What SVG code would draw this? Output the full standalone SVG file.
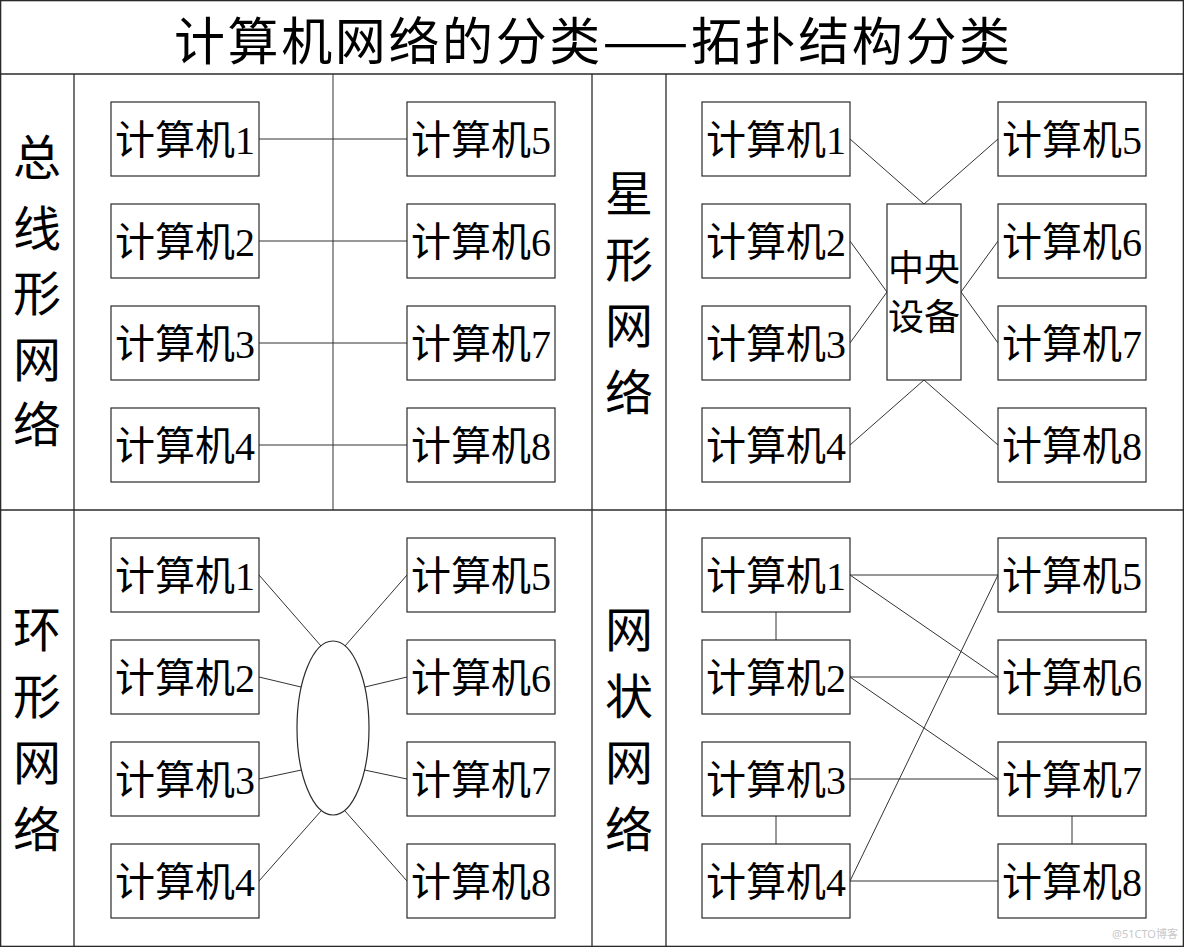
<svg xmlns="http://www.w3.org/2000/svg" width="1184" height="947" viewBox="0 0 1184 947">
<style>
.frame{fill:none;stroke:#2a2a2a;stroke-width:1.3}
.box{fill:#fff;stroke:#2a2a2a;stroke-width:1.2}
.ln{fill:none;stroke:#333;stroke-width:1}
.lbl{font-family:"Liberation Serif","Noto Sans CJK SC",serif;font-size:40px;fill:#000;text-anchor:middle}
.side{font-family:"Noto Sans CJK SC",sans-serif;font-size:48px;fill:#000;text-anchor:middle}
.title{font-family:"Noto Sans CJK SC",sans-serif;font-size:51px;fill:#000;text-anchor:middle}
.dev{font-family:"Noto Sans CJK SC",sans-serif;font-size:36px;fill:#000;text-anchor:middle}
.wm{font-family:"Noto Sans","Noto Sans CJK SC",sans-serif;font-size:11px;fill:#c8c8c8}
</style>
<rect width="1184" height="947" fill="#fff"/>
<g id="frame">
<rect class="frame" x="0.65" y="0.65" width="1182.7" height="945.7"/>
<line class="frame" x1="0" y1="74" x2="1184" y2="74"/>
<line class="frame" x1="0" y1="510" x2="1184" y2="510"/>
<line class="frame" x1="592" y1="74" x2="592" y2="947"/>
<line class="frame" x1="74" y1="74" x2="74" y2="947"/>
<line class="frame" x1="666" y1="74" x2="666" y2="947"/>
</g>
<text id="title" class="title" x="592" y="59.5" textLength="836" lengthAdjust="spacing">计算机网络的分类——拓扑结构分类</text>
<g id="labels">
<text class="side" x="37"><tspan x="37" y="175">总</tspan><tspan x="37" y="246">线</tspan><tspan x="37" y="311">形</tspan><tspan x="37" y="377">网</tspan><tspan x="37" y="442">络</tspan></text>
<text class="side" x="629"><tspan x="629" y="211">星</tspan><tspan x="629" y="277">形</tspan><tspan x="629" y="343">网</tspan><tspan x="629" y="410">络</tspan></text>
<text class="side" x="37"><tspan x="37" y="647">环</tspan><tspan x="37" y="714">形</tspan><tspan x="37" y="780">网</tspan><tspan x="37" y="847">络</tspan></text>
<text class="side" x="629"><tspan x="629" y="647">网</tspan><tspan x="629" y="714">状</tspan><tspan x="629" y="780">网</tspan><tspan x="629" y="847">络</tspan></text>
</g>
<g id="connectors">
<!-- bus -->
<line class="ln" x1="333" y1="74" x2="333" y2="510"/>
<line class="ln" x1="259" y1="139" x2="407" y2="139"/>
<line class="ln" x1="259" y1="241" x2="407" y2="241"/>
<line class="ln" x1="259" y1="343" x2="407" y2="343"/>
<line class="ln" x1="259" y1="445" x2="407" y2="445"/>
<!-- star -->
<line class="ln" x1="850" y1="139" x2="924" y2="204"/>
<line class="ln" x1="998" y1="139" x2="924" y2="204"/>
<line class="ln" x1="850" y1="241" x2="887" y2="292"/>
<line class="ln" x1="850" y1="343" x2="887" y2="292"/>
<line class="ln" x1="998" y1="241" x2="961" y2="292"/>
<line class="ln" x1="998" y1="343" x2="961" y2="292"/>
<line class="ln" x1="850" y1="445" x2="924" y2="380"/>
<line class="ln" x1="998" y1="445" x2="924" y2="380"/>
<!-- ring -->
<line class="ln" x1="259" y1="575" x2="321" y2="646"/>
<line class="ln" x1="259" y1="677" x2="301" y2="687"/>
<line class="ln" x1="259" y1="779" x2="301.5" y2="770"/>
<line class="ln" x1="259" y1="881" x2="321" y2="811"/>
<line class="ln" x1="407" y1="575" x2="345" y2="646"/>
<line class="ln" x1="407" y1="677" x2="365" y2="687"/>
<line class="ln" x1="407" y1="779" x2="364.5" y2="770"/>
<line class="ln" x1="407" y1="881" x2="345" y2="811"/>
<!-- mesh -->
<line class="ln" x1="850" y1="575" x2="998" y2="575"/>
<line class="ln" x1="850" y1="575" x2="998" y2="677"/>
<line class="ln" x1="776" y1="612" x2="776" y2="640"/>
<line class="ln" x1="850" y1="677" x2="998" y2="677"/>
<line class="ln" x1="850" y1="677" x2="998" y2="779"/>
<line class="ln" x1="850" y1="779" x2="998" y2="779"/>
<line class="ln" x1="776" y1="816" x2="776" y2="844"/>
<line class="ln" x1="850" y1="881" x2="998" y2="575"/>
<line class="ln" x1="850" y1="881" x2="998" y2="881"/>
<line class="ln" x1="1072" y1="816" x2="1072" y2="844"/>
</g>
<ellipse id="ring" class="box" cx="333" cy="728" rx="36" ry="87"/>
<g id="bus-nodes">
<g id="bus-1"><rect class="box" x="111" y="102" width="148" height="74"/><text class="lbl" x="185" y="154">计算机1</text></g>
<g id="bus-2"><rect class="box" x="111" y="204" width="148" height="74"/><text class="lbl" x="185" y="256">计算机2</text></g>
<g id="bus-3"><rect class="box" x="111" y="306" width="148" height="74"/><text class="lbl" x="185" y="358">计算机3</text></g>
<g id="bus-4"><rect class="box" x="111" y="408" width="148" height="74"/><text class="lbl" x="185" y="460">计算机4</text></g>
<g id="bus-5"><rect class="box" x="407" y="102" width="148" height="74"/><text class="lbl" x="481" y="154">计算机5</text></g>
<g id="bus-6"><rect class="box" x="407" y="204" width="148" height="74"/><text class="lbl" x="481" y="256">计算机6</text></g>
<g id="bus-7"><rect class="box" x="407" y="306" width="148" height="74"/><text class="lbl" x="481" y="358">计算机7</text></g>
<g id="bus-8"><rect class="box" x="407" y="408" width="148" height="74"/><text class="lbl" x="481" y="460">计算机8</text></g>
</g>
<g id="star-nodes">
<g id="star-1"><rect class="box" x="702" y="102" width="148" height="74"/><text class="lbl" x="776" y="154">计算机1</text></g>
<g id="star-2"><rect class="box" x="702" y="204" width="148" height="74"/><text class="lbl" x="776" y="256">计算机2</text></g>
<g id="star-3"><rect class="box" x="702" y="306" width="148" height="74"/><text class="lbl" x="776" y="358">计算机3</text></g>
<g id="star-4"><rect class="box" x="702" y="408" width="148" height="74"/><text class="lbl" x="776" y="460">计算机4</text></g>
<g id="star-5"><rect class="box" x="998" y="102" width="148" height="74"/><text class="lbl" x="1072" y="154">计算机5</text></g>
<g id="star-6"><rect class="box" x="998" y="204" width="148" height="74"/><text class="lbl" x="1072" y="256">计算机6</text></g>
<g id="star-7"><rect class="box" x="998" y="306" width="148" height="74"/><text class="lbl" x="1072" y="358">计算机7</text></g>
<g id="star-8"><rect class="box" x="998" y="408" width="148" height="74"/><text class="lbl" x="1072" y="460">计算机8</text></g>
<g id="star-hub"><rect class="box" x="887" y="204" width="74" height="176"/><text class="dev" x="924"><tspan x="924" y="281">中央</tspan><tspan x="924" y="330">设备</tspan></text></g>
</g>
<g id="ring-nodes">
<g id="ring-1"><rect class="box" x="111" y="538" width="148" height="74"/><text class="lbl" x="185" y="590">计算机1</text></g>
<g id="ring-2"><rect class="box" x="111" y="640" width="148" height="74"/><text class="lbl" x="185" y="692">计算机2</text></g>
<g id="ring-3"><rect class="box" x="111" y="742" width="148" height="74"/><text class="lbl" x="185" y="794">计算机3</text></g>
<g id="ring-4"><rect class="box" x="111" y="844" width="148" height="74"/><text class="lbl" x="185" y="896">计算机4</text></g>
<g id="ring-5"><rect class="box" x="407" y="538" width="148" height="74"/><text class="lbl" x="481" y="590">计算机5</text></g>
<g id="ring-6"><rect class="box" x="407" y="640" width="148" height="74"/><text class="lbl" x="481" y="692">计算机6</text></g>
<g id="ring-7"><rect class="box" x="407" y="742" width="148" height="74"/><text class="lbl" x="481" y="794">计算机7</text></g>
<g id="ring-8"><rect class="box" x="407" y="844" width="148" height="74"/><text class="lbl" x="481" y="896">计算机8</text></g>
</g>
<g id="mesh-nodes">
<g id="mesh-1"><rect class="box" x="702" y="538" width="148" height="74"/><text class="lbl" x="776" y="590">计算机1</text></g>
<g id="mesh-2"><rect class="box" x="702" y="640" width="148" height="74"/><text class="lbl" x="776" y="692">计算机2</text></g>
<g id="mesh-3"><rect class="box" x="702" y="742" width="148" height="74"/><text class="lbl" x="776" y="794">计算机3</text></g>
<g id="mesh-4"><rect class="box" x="702" y="844" width="148" height="74"/><text class="lbl" x="776" y="896">计算机4</text></g>
<g id="mesh-5"><rect class="box" x="998" y="538" width="148" height="74"/><text class="lbl" x="1072" y="590">计算机5</text></g>
<g id="mesh-6"><rect class="box" x="998" y="640" width="148" height="74"/><text class="lbl" x="1072" y="692">计算机6</text></g>
<g id="mesh-7"><rect class="box" x="998" y="742" width="148" height="74"/><text class="lbl" x="1072" y="794">计算机7</text></g>
<g id="mesh-8"><rect class="box" x="998" y="844" width="148" height="74"/><text class="lbl" x="1072" y="896">计算机8</text></g>
</g>
<text id="watermark" class="wm" x="1112" y="938">@51CTO博客</text>
</svg>
